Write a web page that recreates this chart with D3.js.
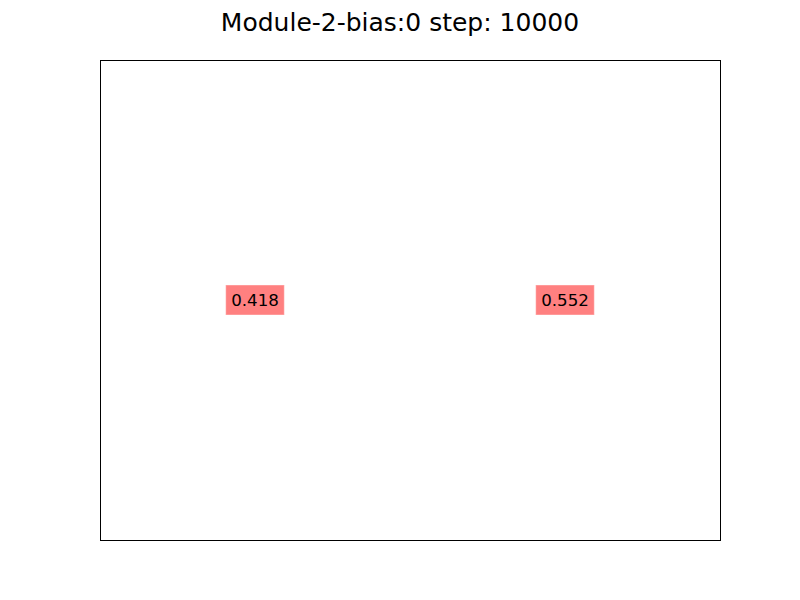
<!DOCTYPE html>
<html><head><meta charset="utf-8">
<script src="https://cdn.jsdelivr.net/npm/d3@7"></script>
<style>body{margin:0;background:#fff}svg{display:block}</style>
</head><body>
<svg id="chart" width="800" height="600"></svg>
<script>
const title = "Module-2-bias:0 step: 10000";
const xPositions = [0, 1];
const yPositions = [0.5, 0.5];
const values = [0.418, 0.552];
const labels = values.map(v => v.toFixed(3));

const svg = d3.select("#chart");
const margin = {left: 100, right: 80, top: 60, bottom: 60};
const W = 800, H = 600;
const x = d3.scaleLinear().domain([-0.5, 1.5]).range([margin.left, W - margin.right]);
const y = d3.scaleLinear().domain([0, 1]).range([H - margin.bottom, margin.top]);

svg.append("rect").attr("width", W).attr("height", H).attr("fill", "#fff");

const fs = 16.67;
const g = svg.append("g");
labels.forEach((t, i) => {
  const cx = x(xPositions[i]), cy = y(yPositions[i]);
  const grp = g.append("g");
  const rect = grp.append("rect");
  const txt = grp.append("text")
    .attr("x", cx).attr("y", cy)
    .attr("text-anchor", "middle")
    .attr("dominant-baseline", "central")
    .attr("font-family", "DejaVu Sans")
    .attr("font-size", fs)
    .attr("fill", "#000")
    .text(t);
  const bb = txt.node().getBBox();
  const pad = 0.3 * fs;
  rect.attr("x", bb.x - pad).attr("y", cy - bb.height / 2 - pad)
    .attr("width", bb.width + 2 * pad).attr("height", bb.height + 2 * pad)
    .attr("fill", "#ff8080").attr("stroke", "#ff8080").attr("stroke-opacity", 0.6);
});

svg.append("rect")
  .attr("x", margin.left + 0.5).attr("y", margin.top + 0.5)
  .attr("width", W - margin.left - margin.right)
  .attr("height", H - margin.top - margin.bottom)
  .attr("fill", "none").attr("stroke", "#000").attr("stroke-width", 1);

svg.append("text")
  .attr("x", W / 2).attr("y", 31)
  .attr("text-anchor", "middle")
  .attr("font-family", "DejaVu Sans")
  .attr("font-size", 25)
  .attr("fill", "#000")
  .text(title);
</script>
</body></html>
